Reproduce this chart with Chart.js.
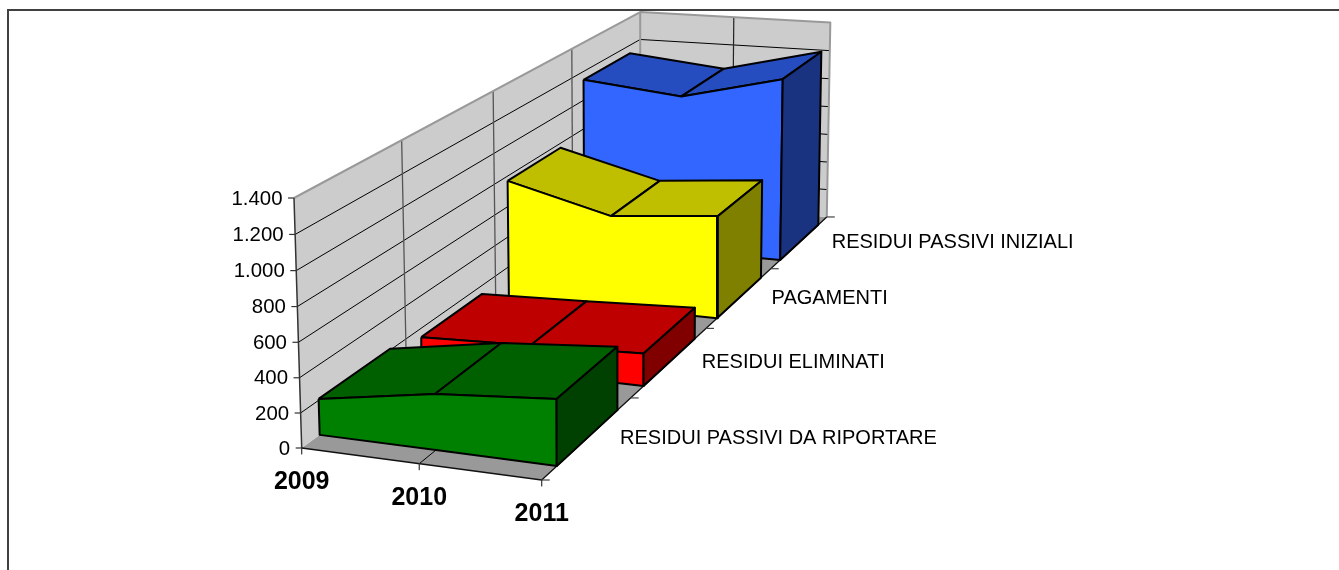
<!DOCTYPE html>
<html><head><meta charset="utf-8">
<style>html,body{margin:0;padding:0;background:#fff;overflow:hidden}#w{position:relative;width:1339px;height:570px}</style>
<script src="https://cdn.jsdelivr.net/npm/chart.js@4"></script>
</head><body><div id="w"><canvas id="c" width="1339" height="570"></canvas></div>
<script>
const years = ["2009","2010","2011"];
const seriesNames = ["RESIDUI PASSIVI DA RIPORTARE","RESIDUI ELIMINATI","PAGAMENTI","RESIDUI PASSIVI INIZIALI"];
const riportare = [208,318,372];
const eliminati = [145,168,196];
const pagamenti = [769,597,657];
const iniziali = [1142,1073,1235];
const yTicks = [0,200,400,600,800,1000,1200,1400];
const yTickLabels = ["0","200","400","600","800","1.000","1.200","1.400"];
const seriesValues = [riportare,eliminati,pagamenti,iniziali];
const seriesColors = [
 {front:"#008000",top:"#006000",side:"#004000"},
 {front:"#FF0000",top:"#BF0000",side:"#800000"},
 {front:"#FFFF00",top:"#BFBF00",side:"#808000"},
 {front:"#3366FF",top:"#264DBF",side:"#1A3380"}];

// perspective box
const YMAX=1400, O={x:301.7,y:448},B={x:541.7,y:480},D={x:640,y:201},Z={x:294,y:198},wx=.96,wd=1.346,wz=.977;
function P(x,t,v){const z=v/YMAX,w=1+x*(wx-1)+t*(wd-1)+z*(wz-1);
 return {x:(O.x+x*(wx*B.x-O.x)+t*(wd*D.x-O.x)+z*(wz*Z.x-O.x))/w,
         y:(O.y+x*(wx*B.y-O.y)+t*(wd*D.y-O.y)+z*(wz*Z.y-O.y))/w};}
const nS=seriesNames.length,nC=years.length,xAt=i=>i/(nC-1),GAP=.04;

const ds=[];
function poly(pts,fill,stroke,lw){ds.push({data:pts,polyFill:fill,borderColor:stroke||"transparent",borderWidth:stroke?lw:0,
  showLine:true,fill:false,pointRadius:0,pointHoverRadius:0,tension:0,clip:false,borderJoinStyle:"round",borderCapStyle:"butt"});}
// floor and walls
poly([P(0,0,0),P(1,0,0),P(1,1,0),P(0,1,0)],"#999999");
poly([P(0,0,0),P(0,1,0),P(0,1,YMAX),P(0,0,YMAX)],"#CCCCCC");
poly([P(0,1,0),P(1,1,0),P(1,1,YMAX),P(0,1,YMAX)],"#CCCCCC");
// horizontal gridlines
yTicks.slice(1,-1).forEach(v=>{poly([P(0,0,v),P(0,1,v),P(1,1,v)],null,"#000000",1);});
// vertical gridlines
for(let i=1;i<nS;i++)poly([P(0,i/nS,0),P(0,i/nS,YMAX)],null,"#555555",1.3);
for(let i=1;i<nC-1;i++)poly([P(xAt(i),1,0),P(xAt(i),1,YMAX)],null,"#222222",1.2);
// floor gridlines
for(let i=1;i<nC-1;i++)poly([P(xAt(i),0,0),P(xAt(i),1,0)],null,"#000000",1);
// wall edges
poly([P(0,0,YMAX),P(0,1,YMAX),P(1,1,YMAX),P(1,1,0)],null,"#999999",2);
poly([P(0,1,0),P(0,1,YMAX)],null,"#999999",2);
// axes
poly([P(0,0,YMAX),P(0,0,0)],null,"#333333",1.5);
poly([P(0,0,0),P(1,0,0),P(1,1,0)],null,"#111111",1.3);
// ticks
yTicks.forEach(v=>{const p=P(0,0,v);poly([p,{x:p.x-6,y:p.y}],null,"#333333",1.2);});
years.forEach((y,i)=>{const p=P(xAt(i),0,0);poly([p,{x:p.x,y:p.y+6}],null,"#333333",1.2);});
for(let i=0;i<=nS;i++){const p=P(1,i/nS,0);poly([p,{x:p.x+8,y:p.y}],null,"#444444",1.2);}
// area bands, back to front
for(let s=nS-1;s>=0;s--){
 const vals=seriesValues[s],c=seriesColors[s],t0=s/nS+GAP,t1=(s+1)/nS-GAP,LW=2;
 for(let i=0;i<nC-1;i++)poly([P(xAt(i),t0,vals[i]),P(xAt(i+1),t0,vals[i+1]),P(xAt(i+1),t1,vals[i+1]),P(xAt(i),t1,vals[i]),P(xAt(i),t0,vals[i])],c.top,"#000",LW);
 const front=[];vals.forEach((v,i)=>front.push(P(xAt(i),t0,v)));
 for(let i=nC-1;i>=0;i--)front.push(P(xAt(i),t0,0));
 front.push(front[0]);poly(front,c.front,"#000",LW);
 const l=nC-1,e=vals[l];
 poly([P(1,t0,0),P(1,t0,e),P(1,t1,e),P(1,t1,0),P(1,t0,0)],c.side,"#000",LW);
}
ds.forEach((d,i)=>{d.order=ds.length-i;});

const faces={id:"faces",
 beforeDraw(ch){const g=ch.ctx;g.save();g.fillStyle="#fff";g.fillRect(0,0,1339,570);
  g.strokeStyle="#404040";g.lineWidth=2;g.beginPath();g.moveTo(8,570);g.lineTo(8,10);g.lineTo(1339,10);g.stroke();g.restore();},
 beforeDatasetDraw(ch,a){const d=ch.data.datasets[a.index];if(!d.polyFill)return;
  const g=ch.ctx,m=a.meta.data;g.save();g.beginPath();m.forEach((p,i)=>i?g.lineTo(p.x,p.y):g.moveTo(p.x,p.y));g.closePath();
  g.fillStyle=d.polyFill;g.fill();g.restore();},
 afterDraw(ch){const g=ch.ctx,sx=ch.scales.x,sy=ch.scales.y;
  const put=(txt,p,dx,dy,font,al,ls)=>{g.font=font;g.textAlign=al;g.textBaseline="middle";g.letterSpacing=ls||"0px";g.fillStyle="#000";
    g.fillText(txt,sx.getPixelForValue(p.x)+dx,sy.getPixelForValue(p.y)+dy);};
  g.save();
  yTicks.forEach((v,i)=>put(yTickLabels[i],P(0,0,v),-11.5,1,'20.4px "Liberation Sans"',"right"));
  years.forEach((y,i)=>put(y,P(xAt(i),0,0),0,34,'bold 25px "Liberation Sans"',"center"));
  seriesNames.forEach((n,i)=>put(n,P(1,(i+.5)/nS,0),32,1,'20px "Liberation Sans"',"left"));
  g.restore();}
};
new Chart(document.getElementById("c"),{type:"scatter",data:{datasets:ds},plugins:[faces],
 options:{responsive:false,animation:false,events:[],layout:{padding:0},
  plugins:{legend:{display:false},tooltip:{enabled:false},title:{display:false}},
  scales:{x:{type:"linear",min:0,max:1339,display:false},y:{type:"linear",min:0,max:570,reverse:true,display:false}}}});
</script></body></html>
